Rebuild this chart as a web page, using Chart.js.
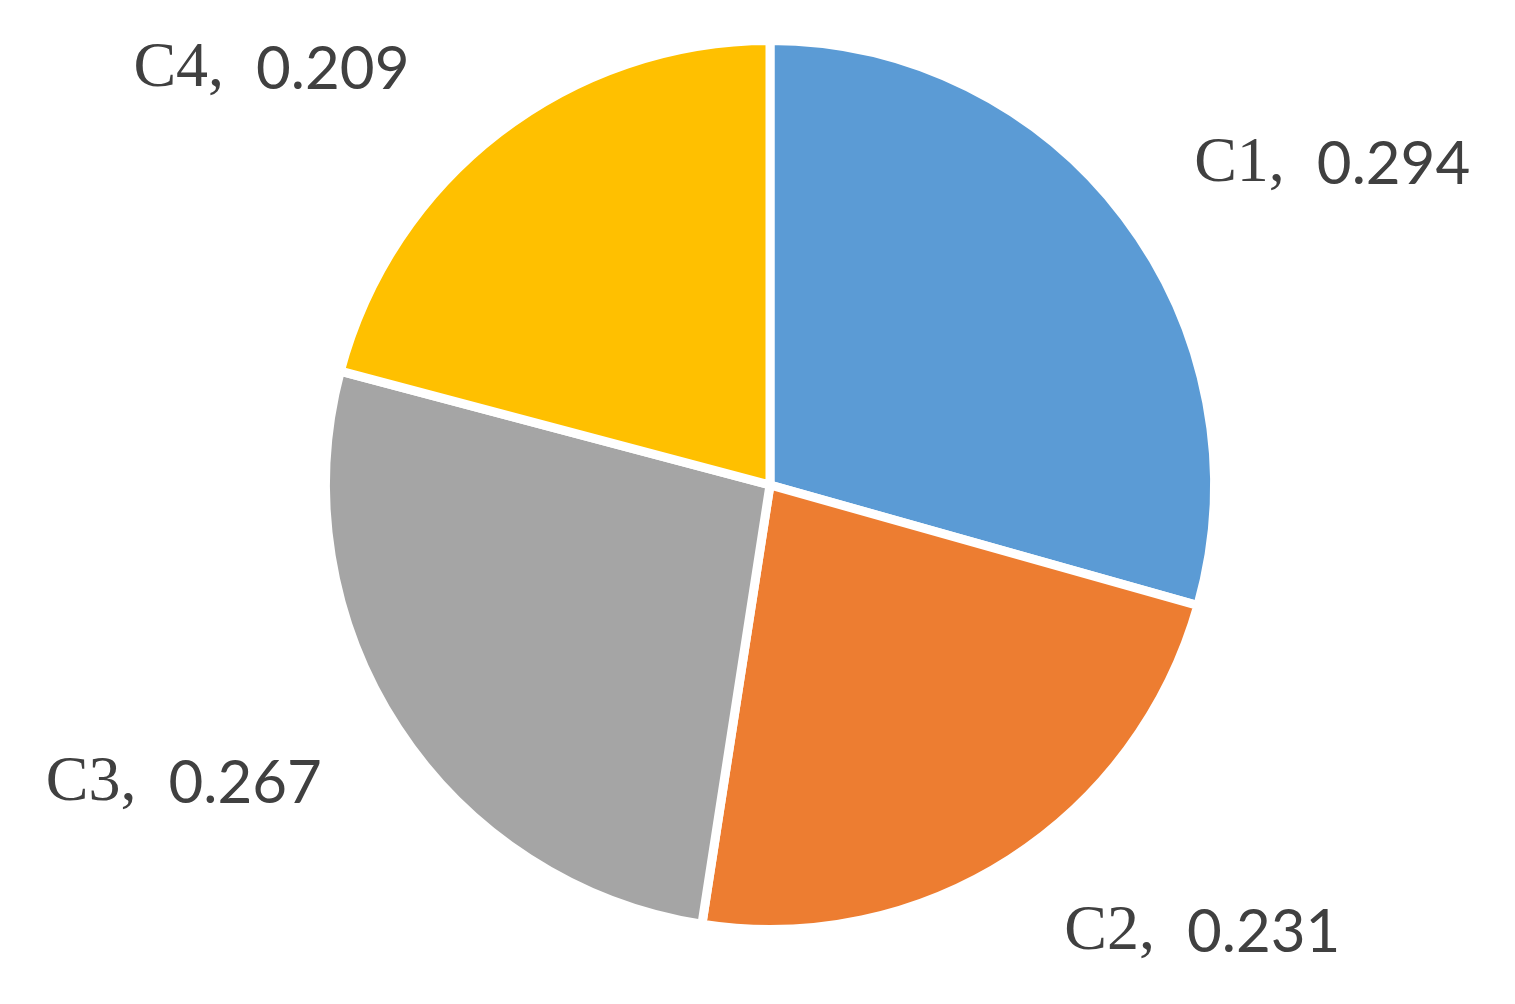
<!DOCTYPE html>
<html>
<head>
<meta charset="utf-8">
<script src="https://cdn.jsdelivr.net/npm/chart.js@4/dist/chart.umd.min.js"></script>
<style>
  html, body { margin: 0; padding: 0; background: #fff; }
  #wrap { width: 1515px; height: 1004px; }
</style>
</head>
<body>
<div id="wrap"><canvas id="pieChart"></canvas></div>
<script>
const categories = ["C1", "C2", "C3", "C4"];
const values = [0.294, 0.231, 0.267, 0.209];
const valueLabels = ["0.294", "0.231", "0.267", "0.209"];
const colors = ["#5B9BD5", "#ED7D31", "#A5A5A5", "#FFC000"];

// where each label sits relative to the pie centre (degrees, radius factor)
const labelAngles = [-29.7, 46, 153, 219.8];
const labelDist = [1.456, 1.40, 1.48, 1.46];

const outsideLabels = {
    id: "outsideLabels",
    afterDatasetsDraw(chart) {
        const ctx = chart.ctx;
        const meta = chart.getDatasetMeta(0);
        ctx.save();
        ctx.fillStyle = "#404040";
        ctx.textBaseline = "middle";
        ctx.textAlign = "left";
        meta.data.forEach((arc, i) => {
            const a = labelAngles[i] * Math.PI / 180;
            const dist = arc.outerRadius * labelDist[i];
            const x = arc.x + Math.cos(a) * dist;
            const y = arc.y + Math.sin(a) * dist;
            const head = categories[i] + ",  ";
            ctx.font = "64px 'Liberation Serif'";
            const w1 = ctx.measureText(head).width;
            ctx.font = "60px Lato";
            const w2 = ctx.measureText(valueLabels[i]).width;
            const left = x - (w1 + w2) / 2;
            ctx.font = "64px 'Liberation Serif'";
            ctx.fillText(head, left, y);
            ctx.font = "60px Lato";
            ctx.fillText(valueLabels[i], left + w1, y);
        });
        ctx.restore();
    }
};

new Chart(document.getElementById("pieChart"), {
    type: "pie",
    data: {
        labels: categories,
        datasets: [{
            data: values,
            backgroundColor: colors,
            borderColor: "#ffffff",
            borderWidth: 9
        }]
    },
    options: {
        responsive: true,
        maintainAspectRatio: false,
        animation: false,
        layout: { padding: { top: 36, bottom: 70, left: 321, right: 296 } },
        plugins: {
            legend: { display: false },
            tooltip: { enabled: false }
        }
    },
    plugins: [outsideLabels]
});
</script>
</body>
</html>
